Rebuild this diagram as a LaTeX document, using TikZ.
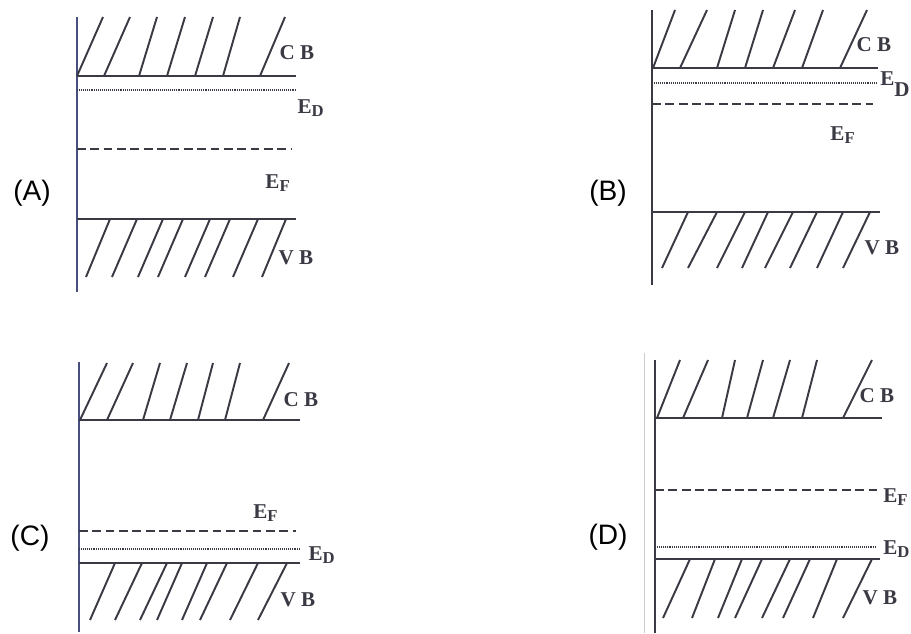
\documentclass[tikz,border=0pt]{standalone}
\usepackage{fontspec}
\setmainfont{Liberation Serif}
\newfontfamily\panelfont{Liberation Sans}
\usetikzlibrary{positioning}

\definecolor{ink}{RGB}{58,58,68}
\definecolor{axisblue}{RGB}{72,78,128}
\newcommand{\lvl}[2]{#1\textsubscript{\fontsize{9.5}{10}\selectfont #2}}

\begin{document}
\begin{tikzpicture}[
  x=0.02cm, y=-0.02cm,
  axis/.style={ink, line width=1.4pt},
  band/.style={ink, line width=1.2pt},
  hatch/.style={ink, line width=1.1pt},
  donor/.style={ink, line width=0.8pt, dash pattern=on 0.5pt off 0.6pt},
  fermi/.style={ink, line width=0.9pt, dash pattern=on 5pt off 2.6pt},
  lbl/.style={font=\bfseries\fontsize{12}{14}\selectfont, text=ink, inner sep=0pt},
  tag/.style={font=\panelfont\fontsize{16}{19}\selectfont, inner sep=0pt}
]
\useasboundingbox (0,0) rectangle (911,633);

% (A)
\draw[axis, axisblue] (77,17) -- (77,292);
\draw[band] (77,76) -- (296,76);
\draw[donor] (77,90) -- (296,90);
\draw[fermi] (77,149) -- (292,149);
\draw[band] (77,219) -- (296,219);
\foreach \a/\b in {77/103,104/130,139/157,167/185,195/213,223/240,260/285}
  \draw[hatch] (\a,76) -- (\b,17);
\foreach \a/\b in {110/86,137/112,163/138,183/158,210/185,230/205,258/233,286/262}
  \draw[hatch] (\a,219) -- (\b,277);
\node[lbl] (cbA) at (297,53) {C B};
\node[lbl] (edA) at (311,108) {\lvl{E}{D}};
\node[lbl] (efA) at (278,183) {\lvl{E}{F}};
\node[lbl] (vbA) at (296,258) {V B};
\node[tag] (tagA) at (32,193) {(A)};

% (B)
\draw[axis] (652,10) -- (652,285);
\draw[band] (652,68) -- (878,68);
\draw[donor] (652,83) -- (878,83);
\draw[fermi] (652,104) -- (873,104);
\draw[band] (652,212) -- (880,212);
\foreach \a/\b in {653/675,680/707,717/735,745/763,773/795,802/823,840/867}
  \draw[hatch] (\a,68) -- (\b,10);
\foreach \a/\b in {688/662,717/688,745/717,768/742,793/765,817/790,843/817,870/843}
  \draw[hatch] (\a,212) -- (\b,268);
\node[lbl] (cbB) at (874,45) {C B};
\node[lbl, anchor=west] (edB) at (880,84) {E\raisebox{-1.1ex}{D}};
\node[lbl] (efB) at (843,135) {\lvl{E}{F}};
\node[lbl] (vbB) at (882,248) {V B};
\node[tag] (tagB) at (608,193) {(B)};

% (C)
\draw[axis, axisblue] (79,362) -- (79,632);
\draw[band] (79,420) -- (300,420);
\draw[fermi] (79,531) -- (296,531);
\draw[donor] (79,549) -- (300,549);
\draw[band] (79,563) -- (300,563);
\foreach \a/\b in {80/107,107/133,143/160,170/187,198/213,225/240,263/289}
  \draw[hatch] (\a,420) -- (\b,363);
\foreach \a/\b in {115/90,142/115,167/140,182/157,207/182,227/200,258/230,287/258}
  \draw[hatch] (\a,563) -- (\b,620);
\node[lbl] (cbC) at (301,400) {C B};
\node[lbl] (efC) at (266,513) {\lvl{E}{F}};
\node[lbl] (edC) at (322,555) {\lvl{E}{D}};
\node[lbl] (vbC) at (298,600) {V B};
\node[tag] (tagC) at (30,538) {(C)};

% (D)
\draw[gray!40, line width=0.5pt] (644,353) -- (644,633);
\draw[axis] (655,360) -- (655,633);
\draw[band] (655,418) -- (882,418);
\draw[fermi] (655,490) -- (877,490);
\draw[donor] (655,547) -- (877,547);
\draw[band] (655,559) -- (880,559);
\foreach \a/\b in {657/680,683/708,722/735,747/763,773/790,802/817,843/872}
  \draw[hatch] (\a,418) -- (\b,360);
\foreach \a/\b in {690/663,715/692,742/718,762/735,790/762,810/783,837/813,872/843}
  \draw[hatch] (\a,559) -- (\b,618);
\node[lbl] (cbD) at (877,396) {C B};
\node[lbl, anchor=west] (efD) at (883,497) {\lvl{E}{F}};
\node[lbl, anchor=west] (edD) at (883,549) {\lvl{E}{D}};
\node[lbl] (vbD) at (880,598) {V B};
\node[tag] (tagD) at (608,537) {(D)};
\end{tikzpicture}
\end{document}
